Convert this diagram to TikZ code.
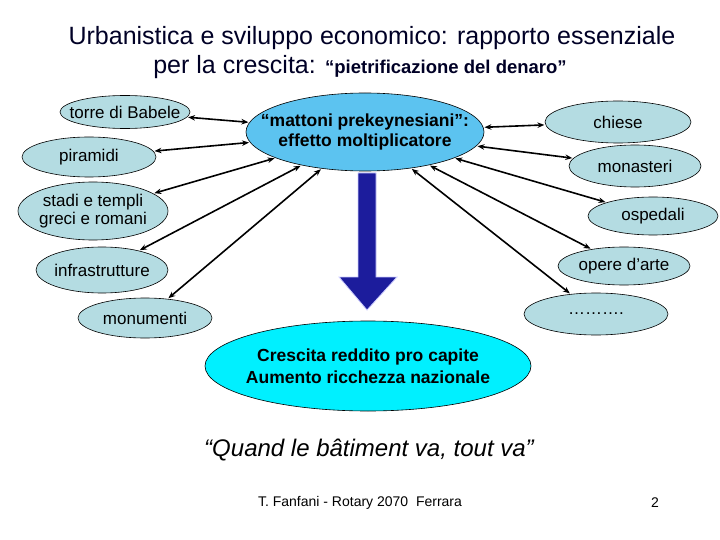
\documentclass[tikz,border=0pt]{standalone}
\usepackage{fontspec}
\setmainfont{Liberation Sans}
\usetikzlibrary{shapes.geometric,arrows.meta}
\definecolor{pale}{HTML}{B4DCE2}
\definecolor{sky}{HTML}{5CC3F0}
\definecolor{cyanb}{HTML}{00F0FF}
\definecolor{navy}{HTML}{1C1C9C}
\tikzset{
 el/.style={ellipse,draw=black,line width=0.6pt,fill=pale,inner xsep=-30pt,inner ysep=-8pt,align=center,font=\fontsize{17}{18}\selectfont},
 lk/.style={{Stealth[length=7pt,width=5.5pt]}-{Stealth[length=7pt,width=5.5pt]},line width=1.6pt},
}
\begin{document}
\begin{tikzpicture}[x=1pt,y=-1pt]
\useasboundingbox[fill=white] (0,0) rectangle (720,540);
\node[font=\fontsize{25}{27}\selectfont,text=black!85!blue] (t1) at (372,38) {Urbanistica e sviluppo economico: rapporto essenziale};
\node[font=\fontsize{25}{27}\selectfont,text=black!85!blue] (t2) at (360,67) {per la crescita: {\fontsize{18.5}{19}\selectfont\bfseries “pietrificazione del denaro”}};
\node[el,minimum width=130,minimum height=33] (torre) at (125,112) {torre di Babele};
\node[el,minimum width=134,minimum height=40] (pir) at (89,157) {piramidi};
\node[el,minimum width=150,minimum height=58] (stadi) at (93,211) {stadi e templi\\greci e romani};
\node[el,minimum width=132,minimum height=46] (infra) at (102,270) {infrastrutture};
\node[el,minimum width=134,minimum height=40] (mon) at (145,318) {monumenti};
\node[el,fill=sky,minimum width=238,minimum height=78,font=\fontsize{17.5}{20}\selectfont\bfseries] (c) at (365,132) {“mattoni prekeynesiani”:\\effetto moltiplicatore};
\node[el,minimum width=146,minimum height=42] (chiese) at (618,122) {chiese};
\node[el,minimum width=132,minimum height=42] (monast) at (635,166) {monasteri};
\node[el,minimum width=130,minimum height=38] (osp) at (653,216) {ospedali};
\node[el,minimum width=132,minimum height=38] (opere) at (624,266) {opere d’arte};
\node[el,minimum width=144,minimum height=42] (dots) at (596,314) {……….};
\node[el,fill=cyanb,minimum width=326,minimum height=90,font=\fontsize{17.5}{22}\selectfont\bfseries] (cr) at (368,366) {Crescita reddito pro capite\\Aumento ricchezza nazionale};
\coordinate (as) at (367,173);
\coordinate (ae) at (367,310);
\draw[draw=blue!20,fill=navy,line width=0.8pt] (358,173) -- (376,173) -- (376,277) -- (397,277) -- (ae) -- (339,277) -- (358,277) -- cycle;
\foreach \n in {torre,pir,stadi,infra,mon,chiese,monast,osp,opere,dots}{\draw[lk,shorten <=1pt,shorten >=1pt] (\n) -- (c);}
\node[font=\fontsize{24}{26}\selectfont\itshape] (q) at (369,450) {“Quand le bâtiment va, tout va”};
\node[font=\fontsize{14}{15}\selectfont] (f) at (360,503) {T. Fanfani - Rotary 2070\ \ Ferrara};
\node[font=\fontsize{14}{15}\selectfont] (p) at (655,503) {2};
\end{tikzpicture}
\end{document}
